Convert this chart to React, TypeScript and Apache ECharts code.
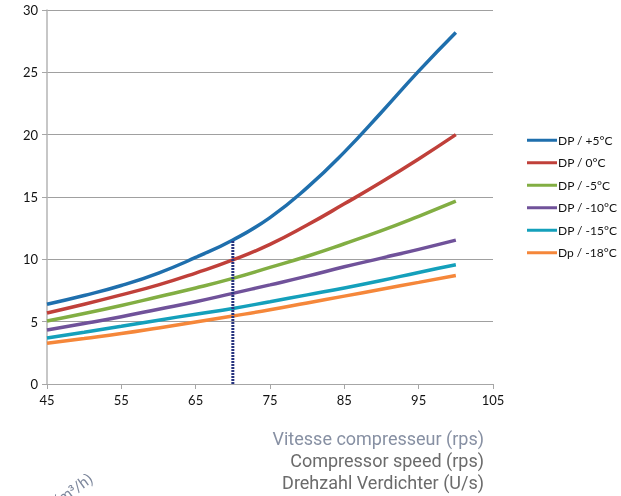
import React, { useEffect, useRef } from "react";
import * as echarts from "echarts";

const speeds = [45, 50, 55, 60, 65, 70, 75, 80, 85, 90, 95, 100];
const seriesNames = ["DP / +5°C", "DP / 0°C", "DP / -5°C", "DP / -10°C", "DP / -15°C", "Dp / -18°C"];
const dpPlus5 = [6.4, 7.1, 7.9, 8.9, 10.15, 11.55, 13.35, 15.75, 18.6, 21.8, 25.1, 28.2];
const dp0 = [5.7, 6.4, 7.15, 7.95, 8.9, 9.95, 11.2, 12.75, 14.45, 16.2, 18.05, 20.0];
const dpMinus5 = [5.05, 5.65, 6.3, 7.0, 7.7, 8.47, 9.35, 10.25, 11.25, 12.3, 13.45, 14.66];
const dpMinus10 = [4.33, 4.85, 5.4, 6.0, 6.6, 7.27, 7.95, 8.65, 9.4, 10.1, 10.8, 11.54];
const dpMinus15 = [3.69, 4.15, 4.63, 5.12, 5.6, 6.06, 6.6, 7.15, 7.7, 8.3, 8.95, 9.56];
const dpMinus18 = [3.26, 3.65, 4.05, 4.5, 4.97, 5.45, 5.95, 6.5, 7.05, 7.6, 8.15, 8.71];
const colors = ["#1f6fad", "#c0403a", "#82ae43", "#70529a", "#14a0bb", "#f5873a"];
const markerSpeed = 70;
const markerTop = 11.55;
const axisTitles = ["Vitesse compresseur (rps)", "Compressor speed (rps)", "Drehzahl Verdichter (U/s)"];
const yTitle = "Débit (m³/h)";

export default function App() {
  const ref = useRef<HTMLDivElement>(null);
  useEffect(() => {
    if (!ref.current) return;
    const chart = echarts.init(ref.current, null, { renderer: "svg" });
    const all = [dpPlus5, dp0, dpMinus5, dpMinus10, dpMinus15, dpMinus18];
    const lineSeries = all.map((vals, i) => ({
      name: seriesNames[i],
      type: "line",
      smooth: true,
      symbol: "none",
      data: speeds.map((s, j) => [s, vals[j]]),
      lineStyle: { color: colors[i], width: 3.5 },
      itemStyle: { color: colors[i] },
      z: 3,
    }));
    const font = "Lato, 'Liberation Sans', sans-serif";
    const titleFont = "18px Roboto, sans-serif";
    chart.setOption({
      animation: false,
      grid: { left: 47, right: 128, top: 10, bottom: 112 },
      xAxis: {
        type: "value",
        min: 45,
        max: 105,
        interval: 10,
        axisLine: { show: true, lineStyle: { color: "#a6a6a6", width: 1 } },
        axisTick: { show: true, length: 5, lineStyle: { color: "#a6a6a6" } },
        axisLabel: { color: "#111", fontFamily: font, fontSize: 13, margin: 9 },
        splitLine: { show: false },
      },
      yAxis: {
        type: "value",
        min: 0,
        max: 30,
        interval: 5,
        axisLine: { show: true, lineStyle: { color: "#b5b5b5", width: 1.5 } },
        axisTick: { show: true, length: 5, lineStyle: { color: "#a6a6a6" } },
        axisLabel: { color: "#111", fontFamily: font, fontSize: 13, margin: 9 },
        splitLine: { show: true, lineStyle: { color: "#a0a0a0", width: 1 } },
      },
      legend: {
        orient: "vertical",
        left: 527,
        top: 133,
        padding: 0,
        itemWidth: 30,
        itemHeight: 3,
        itemGap: 8,
        icon: "rect",
        data: seriesNames,
        textStyle: { color: "#111", fontFamily: font, fontSize: 12, lineHeight: 14.5, padding: [0, 0, 0, -4] },
      },
      series: [
        ...lineSeries,
        {
          name: "marker",
          type: "line",
          symbol: "none",
          data: [[markerSpeed, 0], [markerSpeed, markerTop]],
          lineStyle: { color: "#27337f", width: 3, type: [2, 1] },
          z: 4,
        },
      ],
      graphic: [
        {
          type: "text",
          x: 484,
          y: 438,
          style: { text: axisTitles[0], fill: "#8790a3", font: titleFont, textAlign: "right", textVerticalAlign: "middle" },
        },
        {
          type: "text",
          x: 484,
          y: 460,
          style: { text: axisTitles[1], fill: "#6b6b6b", font: titleFont, textAlign: "right", textVerticalAlign: "middle" },
        },
        {
          type: "text",
          x: 484,
          y: 482,
          style: { text: axisTitles[2], fill: "#6b6b6b", font: titleFont, textAlign: "right", textVerticalAlign: "middle" },
        },
        {
          type: "text",
          x: 91,
          y: 477,
          rotation: (36 * Math.PI) / 180,
          style: {
            text: yTitle,
            fill: "#7d879c",
            font: "15px Roboto, sans-serif",
            textAlign: "right",
            textVerticalAlign: "middle",
          },
        },
      ],
    });
    return () => chart.dispose();
  }, []);
  return <div ref={ref} style={{ position: "fixed", left: 0, top: 0, width: 621, height: 496 }} />;
}
